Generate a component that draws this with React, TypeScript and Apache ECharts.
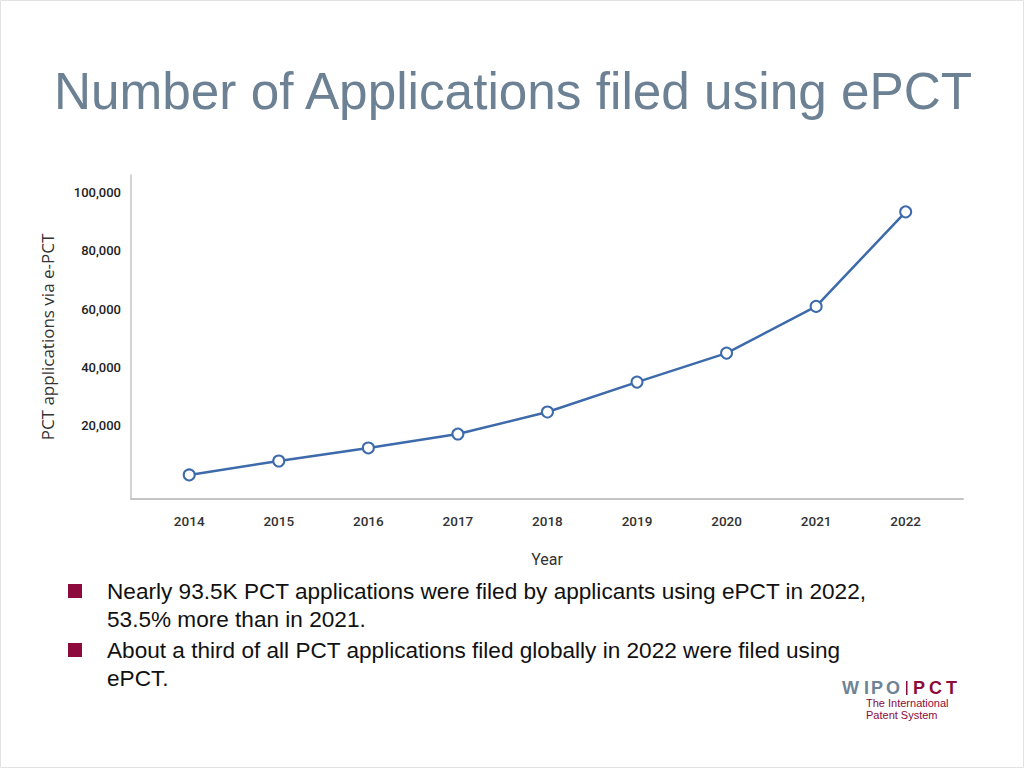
import React, { useEffect, useRef } from "react";
import * as echarts from "echarts";

const years = [2014, 2015, 2016, 2017, 2018, 2019, 2020, 2021, 2022];
const filings = [2800, 7600, 12100, 16900, 24500, 34800, 44800, 60900, 93500];
const yTicks = [20000, 40000, 60000, 80000, 100000];
const titleText = "Number of Applications filed using ePCT";
const bullets = [
  ["Nearly 93.5K PCT applications were filed by applicants using ePCT in 2022,", "53.5% more than in 2021."],
  ["About a third of all PCT applications filed globally in 2022 were filed using", "ePCT."],
];
const logoLeft = ["W", "I", "P", "O"];
const logoRight = ["P", "C", "T"];

const narrow = "Roboto, 'Open Sans', sans-serif";
const maroon = "#8c0a3c";
const slate = "#6c8193";

export default function App() {
  const ref = useRef<HTMLDivElement>(null);
  useEffect(() => {
    if (!ref.current) return;
    const chart = echarts.init(ref.current, null, { renderer: "svg" });
    const extra: any[] = [];
    bullets.forEach((lines, i) => {
      const top = 584 + i * 59;
      extra.push({
        type: "rect",
        shape: { x: 68, y: top, width: 14, height: 14 },
        style: { fill: maroon },
      });
      lines.forEach((ln, j) => {
        extra.push({
          type: "text",
          x: 107,
          y: top + 7 + j * 28,
          style: {
            text: ln,
            font: "22.6px 'Liberation Sans', Arial, sans-serif",
            fill: "#111",
            textVerticalAlign: "middle",
          },
        });
      });
    });
    const leftX = [842, 864, 871, 886];
    logoLeft.forEach((ch, i) => {
      extra.push({
        type: "text",
        x: leftX[i],
        y: 688,
        style: {
          text: ch,
          font: "bold 18px 'Liberation Sans', Arial, sans-serif",
          fill: "#6e8496",
          textVerticalAlign: "middle",
        },
      });
    });
    const rightX = [913, 929, 946];
    logoRight.forEach((ch, i) => {
      extra.push({
        type: "text",
        x: rightX[i],
        y: 688,
        style: {
          text: ch,
          font: "bold 18px 'Liberation Sans', Arial, sans-serif",
          fill: maroon,
          textVerticalAlign: "middle",
        },
      });
    });
    chart.setOption({
      animation: false,
      backgroundColor: "#ffffff",
      grid: { left: 131, right: 61, top: 175, bottom: 269, containLabel: false },
      xAxis: {
        type: "value",
        min: 2013.35,
        max: 2022.64,
        name: "Year",
        nameLocation: "middle",
        nameGap: 52,
        nameTextStyle: { fontFamily: narrow, fontSize: 16, color: "#333" },
        axisLine: { show: true, onZero: false, lineStyle: { color: "#c4c4c4", width: 2 } },
        axisTick: { show: false },
        splitLine: { show: false },
        axisLabel: {
          customValues: years,
          formatter: (v: number) => String(Math.round(v)),
          margin: 15,
          fontFamily: narrow,
          fontSize: 13.5,
          fontWeight: 500,
          color: "#333",
        },
      },
      yAxis: {
        type: "value",
        min: -5500,
        max: 106200,
        name: "PCT applications via e-PCT",
        nameLocation: "middle",
        nameGap: 75,
        nameRotate: 90,
        nameTextStyle: { fontFamily: "'Open Sans', sans-serif", fontSize: 17, color: "#333" },
        axisLine: { show: true, onZero: false, lineStyle: { color: "#c4c4c4", width: 1.5 } },
        axisTick: { show: false },
        splitLine: { show: false },
        axisLabel: {
          customValues: yTicks,
          formatter: (v: number) => v.toLocaleString("en-US"),
          margin: 10,
          fontFamily: narrow,
          fontSize: 13,
          fontWeight: 500,
          color: "#222",
        },
      },
      series: [
        {
          type: "line",
          data: years.map((y, i) => [y, filings[i]]),
          symbol: "circle",
          symbolSize: 11,
          lineStyle: { color: "#3d6aab", width: 2.5 },
          itemStyle: { color: "#ffffff", borderColor: "#3d6aab", borderWidth: 2 },
        },
      ],
      graphic: [
        {
          type: "rect",
          shape: { x: 0.5, y: 0.5, width: 1023, height: 767 },
          style: { fill: "none", stroke: "#e2e2e2", lineWidth: 1 },
        },
        {
          type: "text",
          x: 54,
          y: 91,
          style: {
            text: titleText,
            font: "51.3px 'Liberation Sans', Arial, sans-serif",
            fill: slate,
            textVerticalAlign: "middle",
          },
        },
        ...extra,
        {
          type: "rect",
          shape: { x: 906, y: 681, width: 1.5, height: 14 },
          style: { fill: maroon },
        },
        {
          type: "text",
          x: 866,
          y: 703,
          style: {
            text: "The International",
            font: "11px 'Liberation Sans', Arial, sans-serif",
            fill: maroon,
            textVerticalAlign: "middle",
          },
        },
        {
          type: "text",
          x: 866,
          y: 715,
          style: {
            text: "Patent System",
            font: "11px 'Liberation Sans', Arial, sans-serif",
            fill: maroon,
            textVerticalAlign: "middle",
          },
        },
      ],
    });
    return () => chart.dispose();
  }, []);
  return (
    <div
      ref={ref}
      style={{ position: "absolute", left: 0, top: 0, width: 1024, height: 768 }}
    />
  );
}
